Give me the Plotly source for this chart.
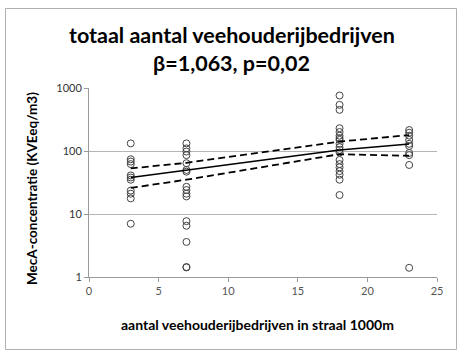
import plotly.graph_objects as go

# ---- data ----
x3_vals = [132, 74, 68, 62, 41, 38, 35, 23.5, 21, 17.7, 7]
x7_vals = [132, 110, 98, 86, 64, 50, 47, 27, 24, 21, 19, 7.7, 6.5, 3.6, 1.44, 1.42]
x18_vals = [760, 540, 450, 230, 200, 175, 160, 150, 130, 115, 104, 95, 72, 62, 55, 48, 42, 35, 20]
x23_vals = [215, 195, 175, 150, 130, 120, 93, 86, 60, 1.4]
groups_x = [3, 7, 18, 23]

fit_x = [3, 7, 18, 23]
fit_y = [38, 50, 104, 129]
upper_y = [53, 65, 141, 179]
lower_y = [26, 35, 89, 84]

y_tickvals = [1, 10, 100, 1000]
y_ticktext = ["1", "10", "100", "1000"]
x_tickvals = [0, 5, 10, 15, 20, 25]

title_line1 = "totaal aantal veehouderijbedrijven"
title_line2 = "β=1,063, p=0,02"
y_title = "MecA-concentratie (KVEeq/m3)"
x_title = "aantal veehouderijbedrijven in straal 1000m"

# ---- build ----
pts_x, pts_y = [], []
for gx, vals in zip(groups_x, [x3_vals, x7_vals, x18_vals, x23_vals]):
    pts_x += [gx] * len(vals)
    pts_y += vals

FONT = "Lato, 'Open Sans', sans-serif"

fig = go.Figure()
fig.add_trace(go.Scatter(
    x=pts_x, y=pts_y, mode="markers",
    marker=dict(symbol="circle-open", size=7, color="#444", line=dict(width=1, color="#444")),
    showlegend=False, hoverinfo="skip"))
fig.add_trace(go.Scatter(x=fit_x, y=upper_y, mode="lines",
                         line=dict(color="black", width=1.8, dash="7px,4px"), showlegend=False))
fig.add_trace(go.Scatter(x=fit_x, y=lower_y, mode="lines",
                         line=dict(color="black", width=1.8, dash="7px,4px"), showlegend=False))
fig.add_trace(go.Scatter(x=fit_x, y=fit_y, mode="lines",
                         line=dict(color="black", width=1.6), showlegend=False))

L, R, T, B = 89, 437, 88, 277
W, H = 463, 356
pw, ph = R - L, B - T

def px(xp):
    return (xp - L) / pw

def py(yp):
    return (B - yp) / ph

fig.update_layout(
    width=W, height=H,
    margin=dict(l=L, r=W - R, t=T, b=H - B),
    paper_bgcolor="white", plot_bgcolor="white",
    font=dict(family=FONT, color="#444"),
    xaxis=dict(range=[0, 25], tickvals=x_tickvals, showgrid=False, zeroline=False,
               showline=True, linecolor="#9a9a9a", linewidth=1,
               ticks="outside", ticklen=4, tickcolor="#9a9a9a",
               tickfont=dict(size=11, color="#555", family=FONT)),
    yaxis=dict(type="log", range=[0, 3], tickvals=y_tickvals, ticktext=y_ticktext,
               showgrid=True, gridcolor="#b5b5b5", gridwidth=1, zeroline=False,
               showline=True, linecolor="#9a9a9a", linewidth=1,
               ticks="outside", ticklen=4, tickcolor="#9a9a9a",
               tickfont=dict(size=11, color="#333", family=FONT)),
    shapes=[dict(type="rect", xref="paper", yref="paper",
                 x0=px(5.5), x1=px(456.5), y0=py(349.5), y1=py(8.5),
                 line=dict(color="#b0b0b0", width=1), fillcolor="rgba(0,0,0,0)", layer="below")],
    annotations=[
        dict(text="<b>" + title_line1 + "</b>", x=px(231.5), y=py(34.5), xref="paper", yref="paper",
             showarrow=False, xanchor="center", yanchor="middle",
             font=dict(size=21.5, color="black", family=FONT)),
        dict(text="<b>" + title_line2 + "</b>", x=px(231.5), y=py(62.5), xref="paper", yref="paper",
             showarrow=False, xanchor="center", yanchor="middle",
             font=dict(size=21.5, color="black", family=FONT)),
        dict(text="<b>" + y_title + "</b>", x=px(32), y=py(189), xref="paper", yref="paper",
             showarrow=False, xanchor="center", yanchor="middle", textangle=-90,
             font=dict(size=13.5, color="black", family=FONT)),
        dict(text="<b>" + x_title + "</b>", x=px(257), y=py(324.5), xref="paper", yref="paper",
             showarrow=False, xanchor="center", yanchor="middle",
             font=dict(size=14, color="black", family=FONT)),
    ],
)

fig.write_html("out.html", config={"displayModeBar": False},
               post_script="document.body.style.margin='0';")
